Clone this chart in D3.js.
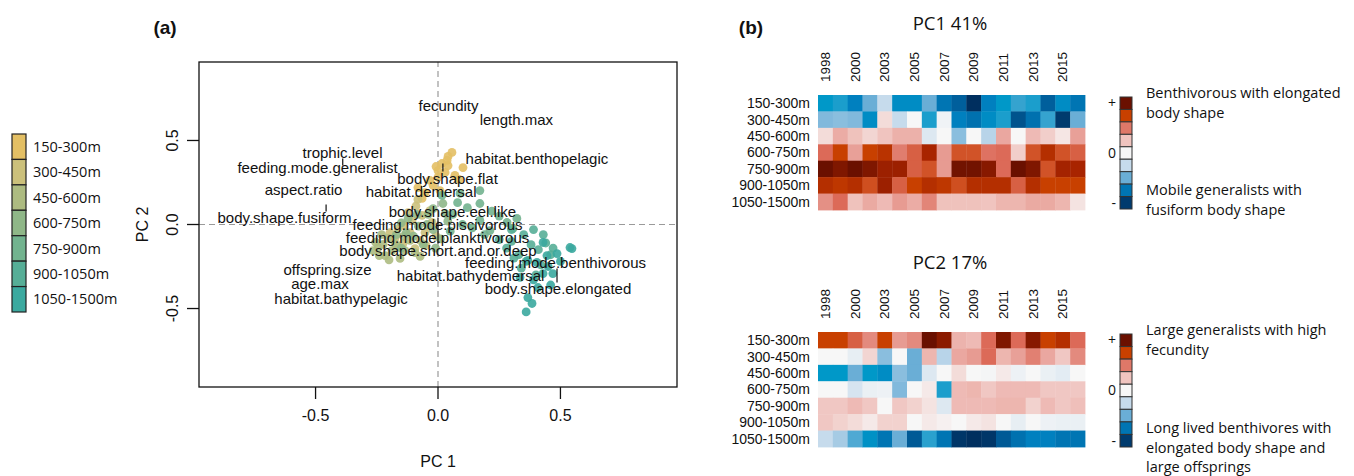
<!DOCTYPE html>
<html>
<head>
<meta charset="utf-8">
<script src="https://cdn.jsdelivr.net/npm/d3@7"></script>
<style>
  body { margin: 0; background: #fff; }
  text { font-family: "Liberation Sans", Arial, sans-serif; fill: #111; }
  .hum { font-family: "Open Sans", "Liberation Sans", sans-serif; }
</style>
</head>
<body>
<svg id="fig" width="1354" height="476"></svg>
<script>
// ---- data ----
var depthBands = ["150-300m", "300-450m", "450-600m", "600-750m", "750-900m", "900-1050m", "1050-1500m"]

// PCA scores (PC1, PC2) per depth band, one point per survey year
var scores150 = [[0.057,0.429],[0.041,0.405],[0.016,0.363],[0.041,0.351],[0.102,0.339],[0.000,0.321],[0.029,0.310],[0.000,0.280],[-0.020,0.232],[-0.065,0.155],[-0.082,0.220],[-0.033,0.262],[0.069,0.292],[0.008,0.202],[-0.053,0.190],[0.037,0.381],[-0.008,0.345],[0.086,0.268]]
var scores300 = [[-0.082,0.149],[-0.114,-0.048],[-0.143,-0.113],[-0.053,-0.048],[-0.033,0.083],[-0.106,0.024],[-0.073,-0.095],[-0.163,-0.024],[-0.024,0.012],[-0.122,0.071],[-0.094,-0.143],[-0.176,-0.083],[-0.049,-0.125],[-0.139,-0.006],[-0.008,-0.071],[-0.065,0.054],[-0.196,-0.048],[-0.090,0.110]]
var scores450 = [[-0.245,-0.137],[-0.176,-0.113],[-0.094,-0.167],[-0.216,-0.185],[-0.265,-0.155],[-0.155,-0.202],[-0.204,-0.083],[-0.135,-0.155],[-0.255,-0.105],[-0.188,-0.155],[-0.114,-0.095],[-0.230,-0.060],[-0.163,-0.131],[-0.240,-0.185],[-0.073,-0.190],[-0.224,-0.119],[-0.200,-0.210],[-0.140,-0.070]]
var scores600 = [[-0.122,0.036],[-0.040,0.060],[-0.020,0.095],[0.020,0.125],[0.030,0.065],[-0.080,-0.010],[-0.150,0.010],[-0.060,-0.120],[-0.020,-0.030],[-0.100,-0.070],[0.010,-0.085],[-0.130,-0.050],[-0.045,0.000],[-0.170,-0.060],[0.040,0.020],[-0.010,-0.140],[-0.085,0.060],[-0.150,-0.140]]
var scores750 = [[0.171,0.202],[0.090,0.185],[0.016,0.173],[0.171,0.125],[0.171,0.024],[0.212,-0.036],[0.282,0.012],[0.322,0.036],[0.306,-0.024],[0.120,0.100],[0.060,0.060],[0.220,0.080],[0.100,0.000],[0.050,-0.040],[0.250,0.050],[0.140,-0.020],[0.080,0.130],[0.190,-0.060]]
var scores900 = [[0.300,-0.100],[0.350,-0.060],[0.380,-0.120],[0.410,-0.150],[0.330,-0.180],[0.280,-0.140],[0.390,-0.030],[0.440,-0.110],[0.360,-0.220],[0.420,-0.240],[0.300,-0.030],[0.460,-0.180],[0.340,-0.260],[0.250,-0.090],[0.400,-0.300],[0.470,-0.140],[0.310,-0.200],[0.430,-0.060]]
var scores1050 = [[0.429,-0.107],[0.539,-0.137],[0.547,-0.143],[0.486,-0.173],[0.445,-0.185],[0.367,-0.214],[0.404,-0.226],[0.469,-0.292],[0.429,-0.292],[0.367,-0.435],[0.408,-0.375],[0.384,-0.470],[0.335,-0.315],[0.500,-0.220],[0.450,-0.250],[0.390,-0.330],[0.460,-0.360],[0.360,-0.520]]
var scoreGroups = [scores150, scores300, scores450, scores600, scores750, scores900, scores1050]

// trait labels placed at their loadings
var traitNames = ["fecundity", "length.max", "trophic.level", "feeding.mode.generalist", "aspect.ratio",
  "body.shape.fusiform", "habitat.benthopelagic", "body.shape.flat", "habitat.demersal", "body.shape.eel.like",
  "feeding.mode.piscivorous", "feeding.mode.planktivorous", "body.shape.short.and.or.deep",
  "feeding.mode.benthivorous", "habitat.bathydemersal", "body.shape.elongated", "offspring.size",
  "age.max", "habitat.bathypelagic"]
var traitPC1 = [0.043, 0.320, -0.390, -0.492, -0.549, -0.627, 0.404, 0.039, -0.069, 0.059, -0.002, -0.002, 0.000, 0.480, 0.133, 0.490, -0.451, -0.482, -0.396]
var traitPC2 = [0.708, 0.625, 0.427, 0.338, 0.204, 0.038, 0.391, 0.272, 0.196, 0.077, 0.000, -0.076, -0.155, -0.230, -0.304, -0.383, -0.270, -0.353, -0.439]

// short leader marks
var leaderPC1 = [-0.389, -0.457, 0.020, 0.000, 0.486]
var leaderTop = [0.393, 0.119, 0.363, 0.042, -0.262]
var leaderBottom = [0.351, 0.077, 0.315, -0.113, -0.345]

var xTicks = [-0.5, 0, 0.5]
var yTicks = [0.5, 0, -0.5]

// heatmaps
var years = ["1998","1999","2000","2001","2003","2004","2005","2006","2007","2008","2009","2010","2011","2012","2013","2014","2015","2016"]
var yearTicks = ["1998","2000","2003","2005","2007","2009","2011","2013","2015"]

var pc1Values = [
  [-0.55,-0.5,-0.65,-0.35,-0.15,-0.6,-0.6,-0.35,-0.7,-0.8,-1.0,-0.65,-0.55,-0.45,-0.5,-0.8,-0.6,-0.7],
  [-0.3,-0.28,-0.3,-0.6,0.08,-0.15,0,-0.5,-0.02,-0.65,-0.72,-0.6,-0.5,-0.85,-0.72,-0.45,-0.95,-0.35],
  [0.08,0.25,0.16,0.1,0.15,0.23,0.23,-0.08,0,-0.28,0,-0.18,0.27,0,0.19,0.12,0.05,0.3],
  [0.5,0.72,0.3,0.72,0.78,0.43,0.55,0.85,0.32,0.62,0.62,0.47,0.5,0.12,0.62,0.8,0.62,0.55],
  [1.0,0.95,1.0,0.95,0.88,0.88,0.55,0.62,0.32,0.98,0.98,0.93,0.5,1.0,0.95,0.62,0.86,0.85],
  [0.8,0.76,0.8,0.64,0.88,0.55,0.72,0.8,0.76,0.64,0.8,0.8,0.8,0.55,0.8,0.72,0.72,0.72],
  [0.36,0.5,0.16,0.26,0.19,0.32,0.25,0.4,0.16,0.16,0.16,0.15,0.21,0.21,0.26,0.26,0.21,0.06]
]
var pc2Values = [
  [0.72,0.72,0.55,0.38,0.72,0.32,0.38,1.0,0.92,0.22,0.19,0.5,0.95,0.5,0.93,0.72,0.8,0.5],
  [0,0,-0.05,0.1,-0.28,0,-0.35,0.21,-0.18,0.27,0.32,0.5,0.21,0.3,0.42,0.27,0.14,0.38],
  [-0.55,-0.55,-0.35,-0.55,-0.6,-0.28,-0.35,-0.08,0,0.08,0,-0.01,0.04,-0.03,0,-0.04,-0.06,0],
  [0,0,-0.1,-0.04,-0.03,-0.3,0,0.04,-0.5,0.19,0.21,0.14,0.19,0.19,0.19,0.14,0.14,0.14],
  [0.14,0.14,0.19,0.14,0,0.14,0.11,0.06,-0.08,0.19,0.19,0.19,0.21,0.21,0.11,0.19,0.14,0.17],
  [0.14,0.11,0.08,0.04,0.11,0.11,0,0.04,0.02,0,0.04,0.06,0,-0.05,0,-0.03,-0.04,-0.04],
  [-0.15,-0.22,-0.4,-0.58,-0.7,-0.35,-0.82,-0.47,-0.7,-0.97,-1.0,-0.97,-0.82,-0.72,-0.65,-0.65,-0.7,-0.7]
]
var legendLevels = [1, 0.72, 0.45, 0.15, 0, -0.15, -0.35, -0.7, -0.95]

var pc1Top = ["Benthivorous with elongated", "body shape"]
var pc1Bottom = ["Mobile generalists with", "fusiform body shape"]
var pc2Top = ["Large generalists with high", "fecundity"]
var pc2Bottom = ["Long lived benthivores with", "elongated body shape and", "large offsprings"]

// ---- colours ----
var depthColor = d3.scaleOrdinal().domain(depthBands)
  .range(["#e3bf64", "#cbc07b", "#adbb81", "#8fb788", "#72b38f", "#56ae97", "#3ba99f"])
var heatColor = d3.scaleLinear()
  .domain([-1, -0.8, -0.65, -0.55, -0.35, -0.15, 0, 0.15, 0.3, 0.5, 0.72, 0.85, 1])
  .range(["#002f5f", "#005f9c", "#0080bf", "#0098c8", "#6aaed6", "#c6dbec", "#f7f7f7",
          "#f0c4bf", "#e8a098", "#dc6a58", "#c84000", "#a82400", "#6a1000"])

var svg = d3.select("#fig")

// ================= panel (a) =================
var x = d3.scaleLinear().domain([-0.976, 0.976]).range([199, 677])
var y = d3.scaleLinear().domain([-0.967, 0.967]).range([387, 62])

svg.append("text").attr("x", 165).attr("y", 34).attr("text-anchor", "middle")
  .style("font-size", "19px").style("font-weight", "bold").text("(a)")

// depth legend
var lg = d3.scaleBand().domain(depthBands).range([134, 312])
svg.selectAll(".dleg").data(depthBands).enter().append("rect")
  .attr("x", 12).attr("y", d => lg(d)).attr("width", 14).attr("height", lg.bandwidth())
  .style("fill", d => depthColor(d)).style("stroke", "#222").style("stroke-width", 1.2)
svg.selectAll(".dlab").data(depthBands).enter().append("text")
  .attr("class", "hum")
  .attr("x", 33).attr("y", d => lg(d) + lg.bandwidth() / 2).attr("dy", "0.35em")
  .style("font-size", "14.5px").text(d => d)

// zero lines
svg.append("line").attr("x1", x(0)).attr("x2", x(0)).attr("y1", y.range()[0]).attr("y2", y.range()[1])
  .style("stroke", "#9a9a9a").style("stroke-dasharray", "6,4").style("stroke-width", 1.2)
svg.append("line").attr("x1", x.range()[0]).attr("x2", x.range()[1]).attr("y1", y(0)).attr("y2", y(0))
  .style("stroke", "#9a9a9a").style("stroke-dasharray", "6,4").style("stroke-width", 1.2)

// points
scoreGroups.forEach(function(pts, i) {
  svg.append("g").selectAll("circle").data(pts).enter().append("circle")
    .attr("cx", d => x(d[0])).attr("cy", d => y(d[1])).attr("r", 4.4)
    .style("fill", depthColor(depthBands[i])).style("fill-opacity", 0.9)
})

// leader marks and trait labels
svg.selectAll(".lead").data(leaderPC1).enter().append("line")
  .attr("x1", d => x(d)).attr("x2", d => x(d))
  .attr("y1", (d, i) => y(leaderTop[i])).attr("y2", (d, i) => y(leaderBottom[i]))
  .style("stroke", "#111").style("stroke-width", 1.2)
svg.selectAll(".trait").data(traitNames).enter().append("text")
  .attr("x", (d, i) => x(traitPC1[i])).attr("y", (d, i) => y(traitPC2[i])).attr("dy", "0.35em")
  .attr("text-anchor", "middle").style("font-size", "15px").text(d => d)

// box
svg.append("rect").attr("x", 199).attr("y", 62).attr("width", 478).attr("height", 325)
  .style("fill", "none").style("stroke", "#111").style("stroke-width", 1.3)

// axes
svg.selectAll(".xt").data(xTicks).enter().append("line")
  .attr("x1", d => x(d)).attr("x2", d => x(d)).attr("y1", 387).attr("y2", 399)
  .style("stroke", "#111").style("stroke-width", 1.3)
svg.selectAll(".xtl").data(xTicks).enter().append("text")
  .attr("x", d => x(d)).attr("y", 421).attr("text-anchor", "middle")
  .style("font-size", "16px").text(d => d3.format(".1f")(d).replace("−", "-"))
svg.selectAll(".yt").data(yTicks).enter().append("line")
  .attr("x1", 187).attr("x2", 199).attr("y1", d => y(d)).attr("y2", d => y(d))
  .style("stroke", "#111").style("stroke-width", 1.3)
svg.selectAll(".ytl").data(yTicks).enter().append("text")
  .attr("transform", d => "translate(178," + y(d) + ") rotate(-90)")
  .attr("text-anchor", "middle")
  .style("font-size", "16px").text(d => d3.format(".1f")(d).replace("−", "-"))
svg.append("text").attr("x", x(0)).attr("y", 467).attr("text-anchor", "middle")
  .style("font-size", "16px").text("PC 1")
svg.append("text").attr("transform", "translate(148," + y(0) + ") rotate(-90)")
  .attr("text-anchor", "middle").style("font-size", "16px").text("PC 2")

// ================= panel (b) =================
svg.append("text").attr("x", 751).attr("y", 34).attr("text-anchor", "middle")
  .style("font-size", "19px").style("font-weight", "bold").text("(b)")

var hx = d3.scaleBand().domain(years).range([818, 1085])

function heatmap(values, top, bottom, title, titleY, topText, bottomText, legTop, legBottom) {
  var hy = d3.scaleBand().domain(depthBands).range([top, bottom])
  var g = svg.append("g")

  g.append("text").attr("class", "hum").attr("x", 950).attr("y", titleY)
    .attr("text-anchor", "middle").style("font-size", "18.5px").text(title)

  values.forEach(function(row, r) {
    g.append("g").selectAll("rect").data(row).enter().append("rect")
      .attr("x", (d, c) => hx(years[c])).attr("y", hy(depthBands[r]))
      .attr("width", hx.bandwidth() + 0.4).attr("height", hy.bandwidth() + 0.4)
      .style("fill", d => heatColor(d))
  })

  // year labels read bottom-to-top, starting just above the cells
  g.selectAll(".yr").data(yearTicks).enter().append("text")
    .attr("transform", d => "translate(" + (hx(d) + hx.bandwidth() / 2) + "," + (top - 13) + ") rotate(-90)")
    .attr("dy", "0.35em").attr("text-anchor", "start")
    .style("font-size", "13.5px").text(d => d)

  g.selectAll(".row").data(depthBands).enter().append("text")
    .attr("x", 810).attr("y", d => hy(d) + hy.bandwidth() / 2).attr("dy", "0.35em")
    .attr("text-anchor", "end").style("font-size", "14px").text(d => d)

  // colour key
  var ly = d3.scaleBand().domain(d3.range(legendLevels.length)).range([legTop, legBottom])
  g.selectAll(".key").data(legendLevels).enter().append("rect")
    .attr("x", 1120).attr("y", (d, i) => ly(i)).attr("width", 12).attr("height", ly.bandwidth())
    .style("fill", d => heatColor(d)).style("stroke", "#333").style("stroke-width", 1)
  var signs = ["+", "0", "-"]
  var signPos = [0, 4, 8]
  g.selectAll(".sign").data(signs).enter().append("text").attr("class", "hum")
    .attr("x", 1116).attr("y", (d, i) => ly(signPos[i]) + ly.bandwidth() / 2)
    .attr("dy", "0.35em").attr("text-anchor", "end").style("font-size", "14px").text(d => d)

  g.selectAll(".tt").data(topText).enter().append("text").attr("class", "hum")
    .attr("x", 1146).attr("y", (d, i) => legTop - 4 + i * 19.5).attr("dy", "0.35em")
    .style("font-size", "14.5px").text(d => d)
  g.selectAll(".bt").data(bottomText).enter().append("text").attr("class", "hum")
    .attr("x", 1146).attr("y", (d, i) => legBottom - 19 + i * 19.5).attr("dy", "0.35em")
    .style("font-size", "14.5px").text(d => d)
}

heatmap(pc1Values, 95, 210, "PC1 41%", 30, pc1Top, pc1Bottom, 97, 209)
heatmap(pc2Values, 332, 447, "PC2 17%", 269, pc2Top, pc2Bottom, 334, 447)
</script>
</body>
</html>
